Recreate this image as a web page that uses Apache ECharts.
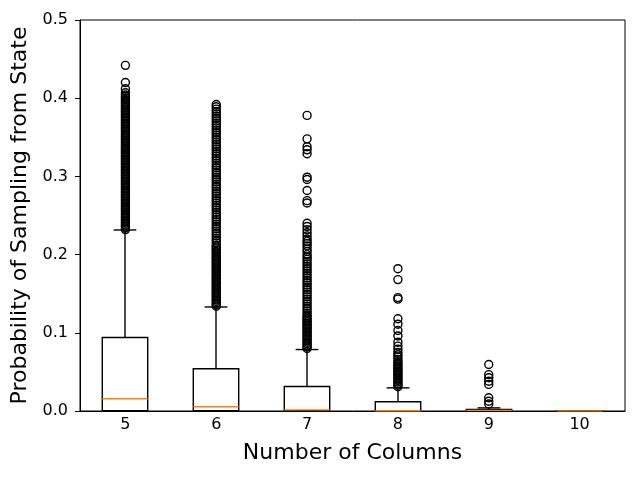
<!DOCTYPE html>
<html>
<head>
<meta charset="utf-8">
<script src="https://cdn.jsdelivr.net/npm/echarts@6/dist/echarts.min.js"></script>
<style>
    html, body { margin: 0; padding: 0; background: #fff; }
    #chart { width: 640px; height: 480px; }
</style>
</head>
<body>
<div id="chart"></div>
<script>
// categories (number of columns)
const categories = ['5', '6', '7', '8', '9', '10'];

// box statistics per category
const boxMin    = [0, 0, 0, 0, 0, 0];
const boxQ1     = [0.0005, 0.0003, 0.0002, 0.0001, 0.0001, 0];
const boxMedian = [0.0156, 0.0054, 0.0015, 0.0003, 0.0008, 0.0001];
const boxQ3     = [0.094, 0.054, 0.0313, 0.0118, 0.002, 0.0002];
const boxMax    = [0.2315, 0.133, 0.0786, 0.0296, 0.004, 0.0003];

// fliers per category
const outliers5 = [
    0.232, 0.234, 0.236, 0.238, 0.240, 0.242, 0.244, 0.246, 0.248, 0.250,
    0.252, 0.254, 0.256, 0.258, 0.260, 0.262, 0.264, 0.266, 0.268, 0.270,
    0.272, 0.274, 0.276, 0.278, 0.280, 0.282, 0.284, 0.286, 0.288, 0.290,
    0.292, 0.294, 0.296, 0.298, 0.300, 0.302, 0.304, 0.306, 0.308, 0.310,
    0.312, 0.314, 0.316, 0.318, 0.320, 0.322, 0.324, 0.326, 0.328, 0.330,
    0.332, 0.334, 0.336, 0.338, 0.340, 0.342, 0.344, 0.346, 0.348, 0.350,
    0.352, 0.354, 0.356, 0.358, 0.360, 0.362, 0.364, 0.366, 0.368, 0.370,
    0.372, 0.374, 0.376, 0.378, 0.380, 0.382, 0.384, 0.386, 0.388, 0.390,
    0.392, 0.394, 0.396, 0.398, 0.400, 0.402, 0.404, 0.407, 0.412, 0.420,
    0.442
];
const outliers6 = [
    0.134, 0.136, 0.138, 0.140, 0.142, 0.144, 0.146, 0.148, 0.150, 0.152,
    0.154, 0.156, 0.158, 0.160, 0.162, 0.164, 0.166, 0.168, 0.170, 0.172,
    0.174, 0.176, 0.178, 0.180, 0.182, 0.184, 0.186, 0.188, 0.190, 0.192,
    0.194, 0.196, 0.198, 0.200, 0.202, 0.204, 0.206, 0.208, 0.210, 0.212,
    0.215, 0.218, 0.221, 0.224, 0.227, 0.230, 0.233, 0.236, 0.239, 0.242,
    0.245, 0.248, 0.251, 0.254, 0.257, 0.260, 0.263, 0.266, 0.269, 0.272,
    0.275, 0.278, 0.281, 0.284, 0.287, 0.290, 0.293, 0.296, 0.299, 0.302,
    0.305, 0.308, 0.311, 0.314, 0.317, 0.320, 0.323, 0.326, 0.329, 0.332,
    0.335, 0.338, 0.341, 0.344, 0.347, 0.350, 0.353, 0.356, 0.359, 0.362,
    0.365, 0.368, 0.371, 0.374, 0.377, 0.380, 0.383, 0.386, 0.389, 0.392
];
const outliers7 = [
    0.080, 0.082, 0.084, 0.086, 0.088, 0.090, 0.092, 0.094, 0.096, 0.098,
    0.100, 0.102, 0.104, 0.106, 0.108, 0.110, 0.112, 0.114, 0.116, 0.118,
    0.120, 0.122, 0.125, 0.128, 0.131, 0.134, 0.137, 0.140, 0.143, 0.146,
    0.149, 0.152, 0.155, 0.158, 0.161, 0.164, 0.167, 0.170, 0.173, 0.176,
    0.179, 0.182, 0.185, 0.188, 0.191, 0.194, 0.197, 0.200, 0.204, 0.207,
    0.211, 0.214, 0.217, 0.220, 0.224, 0.228, 0.232, 0.236, 0.240, 0.266,
    0.269, 0.282, 0.296, 0.299, 0.329, 0.334, 0.338, 0.348, 0.378
];
const outliers8 = [
    0.031, 0.033, 0.035, 0.037, 0.039, 0.041, 0.043, 0.045, 0.047, 0.049,
    0.051, 0.053, 0.055, 0.057, 0.059, 0.061, 0.063, 0.066, 0.069, 0.072,
    0.075, 0.079, 0.083, 0.088, 0.096, 0.103, 0.111, 0.118, 0.143, 0.145,
    0.168, 0.182
];
const outliers9 = [0.009, 0.0125, 0.017, 0.034, 0.038, 0.0425, 0.0465, 0.0595];
const outliers10 = [];

const allOutliers = [outliers5, outliers6, outliers7, outliers8, outliers9, outliers10];
const fontFamily = 'DejaVu Sans';

const chart = echarts.init(document.getElementById('chart'), null, {renderer: 'canvas'});

// rows for the custom box series: [index, min, q1, median, q3, max]
const boxRows = categories.map(function (c, i) {
    return [i, boxMin[i], boxQ1[i], boxMedian[i], boxQ3[i], boxMax[i]];
});

let flierPoints = [];
allOutliers.forEach(function (list, i) {
    list.forEach(function (v) {
        flierPoints.push([i, v]);
    });
});

function renderBox(params, api) {
    const idx = api.value(0);
    const bandWidth = api.size([1, 0])[0];
    const half = bandWidth * 0.25;   // box width = half of the band
    const capHalf = half / 2;        // caps are half the box width
    const pMin = api.coord([idx, api.value(1)]);
    const pQ1 = api.coord([idx, api.value(2)]);
    const pMed = api.coord([idx, api.value(3)]);
    const pQ3 = api.coord([idx, api.value(4)]);
    const pMax = api.coord([idx, api.value(5)]);
    const x = Math.round(pMed[0]);
    const black = {stroke: '#000', lineWidth: 1.4, fill: null};
    return {
        type: 'group',
        children: [
            {
                type: 'rect',
                shape: {x: x - half, y: pQ3[1], width: half * 2, height: pQ1[1] - pQ3[1]},
                style: {stroke: '#000', lineWidth: 1.4, fill: 'none'}
            },
            {type: 'line', shape: {x1: x, y1: pQ3[1], x2: x, y2: pMax[1]}, style: black},
            {type: 'line', shape: {x1: x, y1: pQ1[1], x2: x, y2: pMin[1]}, style: black},
            {type: 'line', shape: {x1: x - capHalf, y1: pMax[1], x2: x + capHalf, y2: pMax[1]}, style: black},
            {type: 'line', shape: {x1: x - capHalf, y1: pMin[1], x2: x + capHalf, y2: pMin[1]}, style: black},
            {
                type: 'line',
                shape: {x1: x - half, y1: pMed[1], x2: x + half, y2: pMed[1]},
                style: {stroke: '#ff7f0e', lineWidth: 1.4}
            }
        ]
    };
}

chart.setOption({
    animation: false,
    backgroundColor: '#fff',
    textStyle: {fontFamily: fontFamily},
    grid: {
        left: 80,
        right: 15,
        top: 20,
        bottom: 69,
        show: true,
        borderColor: '#000',
        borderWidth: 1
    },
    xAxis: {
        type: 'category',
        data: categories,
        boundaryGap: true,
        name: 'Number of Columns',
        nameLocation: 'middle',
        nameGap: 31,
        nameTextStyle: {fontSize: 22, color: '#000', fontFamily: fontFamily},
        axisLine: {lineStyle: {color: '#000', width: 1}},
        axisTick: {alignWithLabel: true, length: 5, lineStyle: {color: '#000'}},
        axisLabel: {fontSize: 16, color: '#000', margin: 6, fontFamily: fontFamily},
        splitLine: {show: false}
    },
    yAxis: {
        type: 'value',
        min: 0,
        max: 0.5,
        interval: 0.1,
        name: 'Probability of Sampling from State',
        nameLocation: 'middle',
        nameGap: 41,
        nameTextStyle: {fontSize: 22, color: '#000', fontFamily: fontFamily},
        axisLine: {show: true, lineStyle: {color: '#000', width: 1}},
        axisTick: {show: true, length: 5, lineStyle: {color: '#000'}},
        axisLabel: {
            fontSize: 16,
            color: '#000',
            margin: 12,
            fontFamily: fontFamily,
            formatter: function (v) { return v.toFixed(1); }
        },
        splitLine: {show: false}
    },
    series: [
        {
            name: 'box',
            type: 'custom',
            renderItem: renderBox,
            encode: {x: 0, y: [1, 2, 3, 4, 5]},
            data: boxRows,
            z: 2
        },
        {
            name: 'fliers',
            type: 'scatter',
            symbol: 'circle',
            symbolSize: 8,
            itemStyle: {color: 'rgba(0,0,0,0)', borderColor: '#000', borderWidth: 1.4, opacity: 1},
            data: flierPoints,
            z: 3
        }
    ]
});
</script>
</body>
</html>
